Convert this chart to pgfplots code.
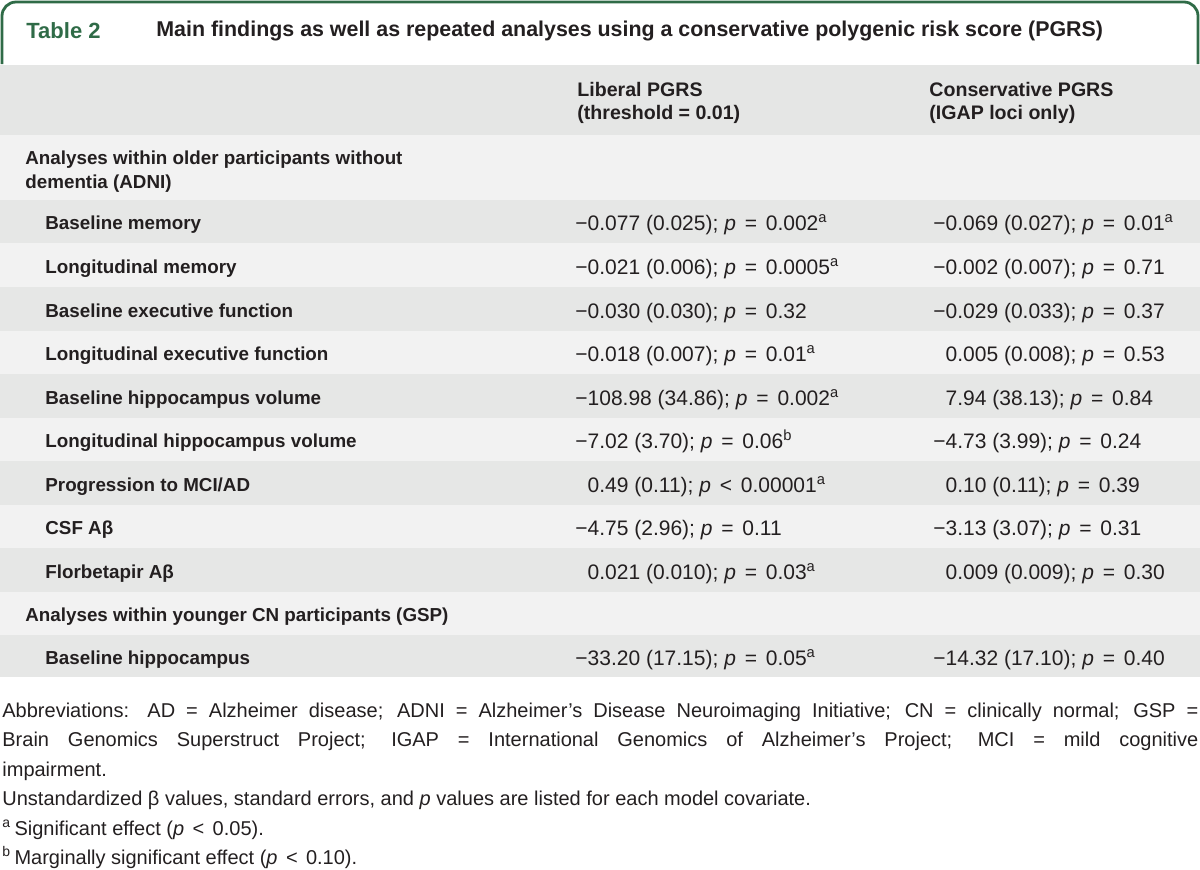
\documentclass[border=0pt]{standalone}
\usepackage{pgfplots}
\pgfplotsset{compat=1.18}
\usepackage{fontspec}
\setmainfont{Liberation Sans}
\definecolor{tabgreen}{HTML}{2F6B47}
\definecolor{hdrgray}{HTML}{E5E6E5}
\definecolor{rowlight}{HTML}{F2F2F2}
\definecolor{rowdark}{HTML}{E6E7E6}
\definecolor{txt}{HTML}{231F20}
\newcommand{\mn}{{\char"2212}}
\newcommand{\bet}{{\char"03B2}}
\newcommand{\pp}{\textit{p}}
\newcommand{\eq}{\hspace{0.42em}=\hspace{0.42em}}
\newcommand{\lt}{\hspace{0.42em}<\hspace{0.42em}}
\newcommand{\sa}{\textsuperscript{a}}
\newcommand{\sbb}{\textsuperscript{b}}
% label: x, cap-centre y, text (baseline = centre + 6.5)
\newcommand{\lab}[3]{\node[anchor=base west,inner sep=0pt,font=\fontsize{9.4pt}{11pt}\selectfont\bfseries,text=txt] at (axis cs:#1,#2+6.5) {#3};}
\newcommand{\hdr}[3]{\node[anchor=base west,inner sep=0pt,font=\fontsize{9.8pt}{11pt}\selectfont\bfseries,text=txt] at (axis cs:#1,#2+7) {#3};}
\newcommand{\val}[3]{\node[anchor=base west,inner sep=0pt,font=\fontsize{10.5pt}{12pt}\selectfont,text=txt] at (axis cs:#1,#2+7.5) {#3};}
\newcommand{\fn}[2]{\node[anchor=base west,inner sep=0pt,font=\fontsize{10pt}{12pt}\selectfont,text=txt] at (axis cs:2,#1) {#2};}
\newcommand{\band}[3]{\fill[#3] (axis cs:0,#1) rectangle (axis cs:1200,#2);}
\begin{document}
\begin{tikzpicture}
\begin{axis}[width=600pt,height=434.5pt,scale only axis,
  xmin=0,xmax=1200,ymin=0,ymax=869,y dir=reverse,hide axis,clip=false]
% bands
\band{65}{135}{hdrgray}
\band{135}{200}{rowlight}
\band{200}{243}{rowdark}
\band{243}{287}{rowlight}
\band{287}{331}{rowdark}
\band{331}{374}{rowlight}
\band{374}{418}{rowdark}
\band{418}{461}{rowlight}
\band{461}{505}{rowdark}
\band{505}{548}{rowlight}
\band{548}{592}{rowdark}
\band{592}{635}{rowlight}
\band{635}{677}{rowdark}
% tab
\draw[tabgreen,line width=1.4pt,rounded corners=7pt] (axis cs:2,64) -- (axis cs:2,2) -- (axis cs:1198,2) -- (axis cs:1198,64);
\node[anchor=west,inner sep=0pt,font=\fontsize{11pt}{12pt}\selectfont\bfseries,text=tabgreen] at (axis cs:26,31) {Table 2};
\node[anchor=west,inner sep=0pt,font=\fontsize{10.7pt}{12pt}\selectfont\bfseries,text=txt] at (axis cs:156,31) {Main findings as well as repeated analyses using a conservative polygenic risk score (PGRS)};
% header
\hdr{577}{89}{Liberal PGRS}
\hdr{577}{112}{(threshold = 0.01)}
\hdr{929}{89}{Conservative PGRS}
\hdr{929}{112}{(IGAP loci only)}
% sections
\lab{25}{158}{Analyses within older participants without}
\lab{25}{182}{dementia (ADNI)}
\lab{25}{615}{Analyses within younger CN participants (GSP)}
% rows
\lab{45}{223}{Baseline memory}
\val{575}{223}{\mn0.077 (0.025); \pp\eq0.002\sa}
\val{933}{223}{\mn0.069 (0.027); \pp\eq0.01\sa}
\lab{45}{267}{Longitudinal memory}
\val{575}{267}{\mn0.021 (0.006); \pp\eq0.0005\sa}
\val{933}{267}{\mn0.002 (0.007); \pp\eq0.71}
\lab{45}{311}{Baseline executive function}
\val{575}{311}{\mn0.030 (0.030); \pp\eq0.32}
\val{933}{311}{\mn0.029 (0.033); \pp\eq0.37}
\lab{45}{354}{Longitudinal executive function}
\val{575}{354}{\mn0.018 (0.007); \pp\eq0.01\sa}
\val{933}{354}{\phantom{\mn}0.005 (0.008); \pp\eq0.53}
\lab{45}{398}{Baseline hippocampus volume}
\val{575}{398}{\mn108.98 (34.86); \pp\eq0.002\sa}
\val{933}{398}{\phantom{\mn}7.94 (38.13); \pp\eq0.84}
\lab{45}{441}{Longitudinal hippocampus volume}
\val{575}{441}{\mn7.02 (3.70); \pp\eq0.06\sbb}
\val{933}{441}{\mn4.73 (3.99); \pp\eq0.24}
\lab{45}{485}{Progression to MCI/AD}
\val{575}{485}{\phantom{\mn}0.49 (0.11); \pp\lt0.00001\sa}
\val{933}{485}{\phantom{\mn}0.10 (0.11); \pp\eq0.39}
\lab{45}{528}{CSF A\bet}
\val{575}{528}{\mn4.75 (2.96); \pp\eq0.11}
\val{933}{528}{\mn3.13 (3.07); \pp\eq0.31}
\lab{45}{572}{Florbetapir A\bet}
\val{575}{572}{\phantom{\mn}0.021 (0.010); \pp\eq0.03\sa}
\val{933}{572}{\phantom{\mn}0.009 (0.009); \pp\eq0.30}
\lab{45}{658}{Baseline hippocampus}
\val{575}{658}{\mn33.20 (17.15); \pp\eq0.05\sa}
\val{933}{658}{\mn14.32 (17.10); \pp\eq0.40}
% footnotes
\fn{717}{\makebox[598pt][s]{Abbreviations: AD = Alzheimer disease; ADNI = Alzheimer’s Disease Neuroimaging Initiative; CN = clinically normal; GSP =}}
\fn{746.5}{\makebox[598pt][s]{Brain Genomics Superstruct Project; IGAP = International Genomics of Alzheimer’s Project; MCI = mild cognitive}}
\fn{776}{impairment.}
\fn{805.5}{Unstandardized \bet{} values, standard errors, and \pp{} values are listed for each model covariate.}
\fn{835}{\textsuperscript{a}\,Significant effect (\pp\lt0.05).}
\fn{864}{\textsuperscript{b}\,Marginally significant effect (\pp\lt0.10).}
\end{axis}
\pgfresetboundingbox
\path (0,0) rectangle (600pt,434.5pt);
\end{tikzpicture}
\end{document}
